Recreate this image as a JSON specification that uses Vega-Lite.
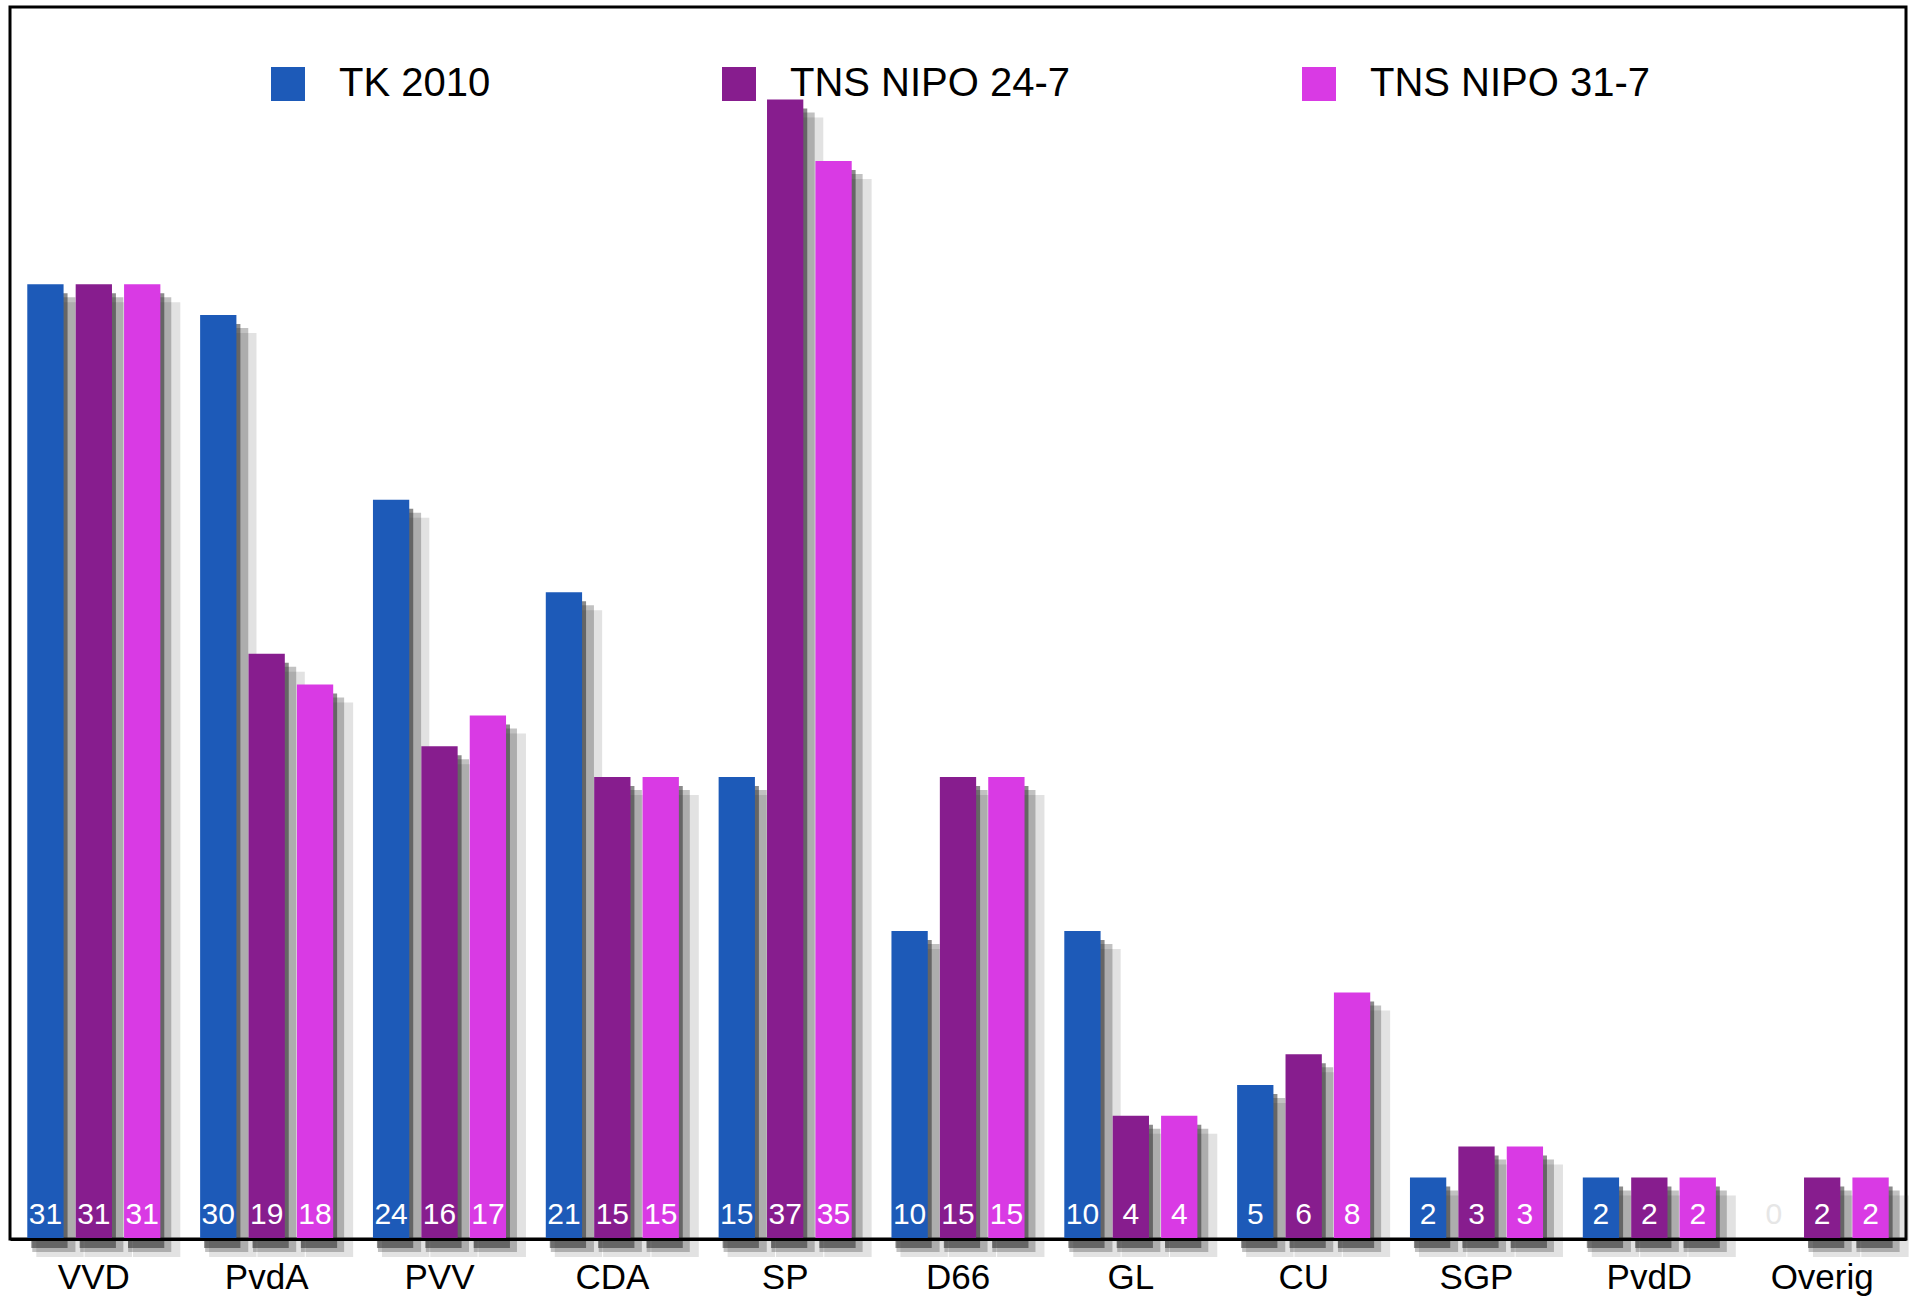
{
  "$schema": "https://vega.github.io/schema/vega-lite/v6.json",
  "width": 1896,
  "height": 1232,
  "autosize": {"type": "none"},
  "padding": {"left": 10, "top": 7, "right": 14, "bottom": 67},
  "background": "#ffffff",
  "config": {
    "view": {"stroke": "#000000", "strokeWidth": 3},
    "font": "Liberation Sans"
  },
  "data": {
    "values": [
      {"party": "VVD", "series": "TK 2010", "seats": 31},
      {"party": "VVD", "series": "TNS NIPO 24-7", "seats": 31},
      {"party": "VVD", "series": "TNS NIPO 31-7", "seats": 31},
      {"party": "PvdA", "series": "TK 2010", "seats": 30},
      {"party": "PvdA", "series": "TNS NIPO 24-7", "seats": 19},
      {"party": "PvdA", "series": "TNS NIPO 31-7", "seats": 18},
      {"party": "PVV", "series": "TK 2010", "seats": 24},
      {"party": "PVV", "series": "TNS NIPO 24-7", "seats": 16},
      {"party": "PVV", "series": "TNS NIPO 31-7", "seats": 17},
      {"party": "CDA", "series": "TK 2010", "seats": 21},
      {"party": "CDA", "series": "TNS NIPO 24-7", "seats": 15},
      {"party": "CDA", "series": "TNS NIPO 31-7", "seats": 15},
      {"party": "SP", "series": "TK 2010", "seats": 15},
      {"party": "SP", "series": "TNS NIPO 24-7", "seats": 37},
      {"party": "SP", "series": "TNS NIPO 31-7", "seats": 35},
      {"party": "D66", "series": "TK 2010", "seats": 10},
      {"party": "D66", "series": "TNS NIPO 24-7", "seats": 15},
      {"party": "D66", "series": "TNS NIPO 31-7", "seats": 15},
      {"party": "GL", "series": "TK 2010", "seats": 10},
      {"party": "GL", "series": "TNS NIPO 24-7", "seats": 4},
      {"party": "GL", "series": "TNS NIPO 31-7", "seats": 4},
      {"party": "CU", "series": "TK 2010", "seats": 5},
      {"party": "CU", "series": "TNS NIPO 24-7", "seats": 6},
      {"party": "CU", "series": "TNS NIPO 31-7", "seats": 8},
      {"party": "SGP", "series": "TK 2010", "seats": 2},
      {"party": "SGP", "series": "TNS NIPO 24-7", "seats": 3},
      {"party": "SGP", "series": "TNS NIPO 31-7", "seats": 3},
      {"party": "PvdD", "series": "TK 2010", "seats": 2},
      {"party": "PvdD", "series": "TNS NIPO 24-7", "seats": 2},
      {"party": "PvdD", "series": "TNS NIPO 31-7", "seats": 2},
      {"party": "Overig", "series": "TK 2010", "seats": 0},
      {"party": "Overig", "series": "TNS NIPO 24-7", "seats": 2},
      {"party": "Overig", "series": "TNS NIPO 31-7", "seats": 2}
    ]
  },
  "resolve": {"scale": {"xOffset": "independent"}},
  "encoding": {
    "x": {
      "field": "party",
      "type": "nominal",
      "sort": null,
      "scale": {"paddingInner": 0.23, "paddingOuter": 0.1},
      "axis": {
        "title": null,
        "labelAngle": 0,
        "labelFontSize": 35,
        "labelColor": "#000000",
        "labelFont": "Liberation Sans",
        "labelPadding": 21,
        "ticks": false,
        "domain": true,
        "domainColor": "#000000",
        "domainWidth": 3,
        "zindex": 1
      }
    },
    "y": {
      "field": "seats",
      "type": "quantitative",
      "scale": {"domain": [0, 40], "nice": false},
      "axis": null
    }
  },
  "layer": [
    {
      "mark": {"type": "bar", "color": "#333333", "opacity": 0.14, "yOffset": 18, "y2Offset": 24},
      "encoding": {
        "xOffset": {
          "field": "series",
          "type": "nominal",
          "sort": ["TK 2010", "TNS NIPO 24-7", "TNS NIPO 31-7"],
          "scale": {"type": "band", "paddingInner": 0.02, "paddingOuter": 0, "range": [9, 153]}
        }
      }
    },
    {
      "mark": {"type": "bar", "color": "#333333", "opacity": 0.3, "yOffset": 13, "y2Offset": 17},
      "encoding": {
        "xOffset": {
          "field": "series",
          "type": "nominal",
          "sort": ["TK 2010", "TNS NIPO 24-7", "TNS NIPO 31-7"],
          "scale": {"type": "band", "paddingInner": 0.1, "paddingOuter": 0, "range": [5, 144]}
        }
      }
    },
    {
      "mark": {"type": "bar", "color": "#2a2a2a", "opacity": 0.55, "yOffset": 9, "y2Offset": 11},
      "encoding": {
        "xOffset": {
          "field": "series",
          "type": "nominal",
          "sort": ["TK 2010", "TNS NIPO 24-7", "TNS NIPO 31-7"],
          "scale": {"type": "band", "paddingInner": 0.25, "paddingOuter": 0, "range": [4, 137]}
        }
      }
    },
    {
      "mark": {"type": "bar"},
      "encoding": {
        "xOffset": {
          "field": "series",
          "type": "nominal",
          "sort": ["TK 2010", "TNS NIPO 24-7", "TNS NIPO 31-7"],
          "scale": {"type": "band", "paddingInner": 0.25, "paddingOuter": 0}
        },
        "color": {
          "field": "series",
          "type": "nominal",
          "scale": {
            "domain": ["TK 2010", "TNS NIPO 24-7", "TNS NIPO 31-7"],
            "range": ["#1d5ab8", "#871d8e", "#d93ae4"]
          },
          "legend": {
            "title": null,
            "orient": "none",
            "direction": "horizontal",
            "legendX": 258,
            "legendY": 57,
            "symbolType": "square",
            "symbolSize": 1156,
            "symbolStrokeWidth": 0,
            "symbolOpacity": 1,
            "labelFontSize": 40,
            "labelFont": "Liberation Sans",
            "labelColor": "#000000",
            "labelOffset": 31,
            "columnPadding": 228,
            "labelLimit": 600
          }
        }
      }
    },
    {
      "mark": {"type": "text", "fontSize": 30, "font": "Liberation Sans", "baseline": "alphabetic", "dy": -15},
      "encoding": {
        "xOffset": {
          "field": "series",
          "type": "nominal",
          "sort": ["TK 2010", "TNS NIPO 24-7", "TNS NIPO 31-7"],
          "scale": {"type": "band", "paddingInner": 0.25, "paddingOuter": 0}
        },
        "y": {"datum": 0},
        "text": {"field": "seats", "type": "quantitative"},
        "color": {
          "condition": {"test": "datum.seats === 0", "value": "#e6e6e6"},
          "value": "#ffffff"
        }
      }
    }
  ]
}
